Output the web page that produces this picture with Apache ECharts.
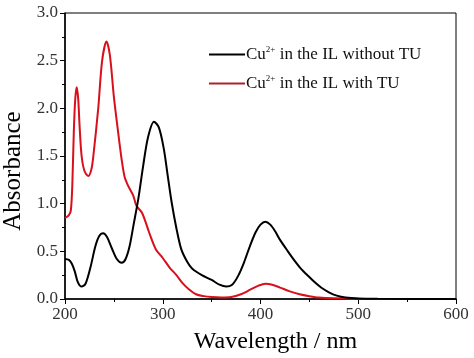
<!DOCTYPE html>
<html>
<head>
<meta charset="utf-8">
<script src="https://cdn.jsdelivr.net/npm/echarts@6/dist/echarts.min.js"></script>
<style>html,body{margin:0;padding:0;background:#fff}#c{width:474px;height:358px}</style>
</head>
<body>
<div id="c"></div>
<script>
var seriesNames = ['without', 'with'];
var legendLabels = [' in the IL without TU', ' in the IL with TU'];
var xTicks = [200, 300, 400, 500, 600];
var withoutTU = [[200,0.42],[204,0.41],[207,0.37],[210,0.29],[213,0.18],[217,0.13],[221,0.16],[226,0.33],[231,0.55],[235,0.66],[239,0.69],[243,0.65],[248,0.53],[253,0.42],[258,0.38],[262,0.42],[266,0.55],[270,0.77],[275,1.05],[280,1.40],[285,1.70],[291,1.86],[296,1.80],[301,1.58],[305,1.30],[309,1.02],[314,0.74],[319,0.52],[325,0.39],[330,0.32],[340,0.25],[350,0.20],[358,0.15],[365,0.13],[371,0.15],[377,0.24],[383,0.38],[389,0.55],[395,0.70],[400,0.78],[405,0.81],[410,0.78],[415,0.71],[420,0.62],[428,0.50],[435,0.40],[442,0.31],[448,0.25],[455,0.18],[462,0.12],[470,0.07],[478,0.035],[487,0.015],[500,0.005],[520,0.002],[600,0]];
var withTU = [[200,0.85],[204,0.88],[206,0.93],[207.5,1.2],[209,1.75],[210.5,2.1],[212,2.22],[213.5,2.1],[215,1.8],[217,1.5],[220,1.34],[224,1.29],[227,1.36],[229,1.5],[234,2.0],[238,2.5],[242.5,2.70],[246,2.55],[250,2.12],[254,1.78],[258,1.46],[261,1.28],[264,1.20],[267,1.14],[270,1.08],[273,0.98],[279,0.90],[286,0.70],[293,0.52],[300,0.43],[307,0.33],[314,0.25],[320,0.17],[327,0.10],[334,0.05],[342,0.03],[350,0.02],[360,0.015],[370,0.02],[380,0.05],[390,0.10],[398,0.14],[405,0.16],[412,0.15],[420,0.12],[430,0.08],[440,0.05],[450,0.03],[460,0.015],[475,0.007],[500,0.002],[600,0]];

var chart = echarts.init(document.getElementById('c'));
var serif = 'Liberation Serif';
chart.setOption({
  animation: false,
  backgroundColor: '#fff',
  grid: {left: 65, right: 18, top: 13, bottom: 59, show: true, borderColor: '#000', borderWidth: 1,
         containLabel: false, outerBoundsMode: 'none'},
  legend: {
    orient: 'vertical', left: 204, top: 40, itemGap: 11,
    itemWidth: 36, itemHeight: 2, icon: 'rect',
    data: seriesNames,
    formatter: function (n) {
      var i = seriesNames.indexOf(n);
      return '{a|Cu}{s|2+}{a|' + legendLabels[i] + '}';
    },
    textStyle: {
      fontFamily: serif, color: '#000', padding: [0,0,0,-4],
      rich: {
        a: {fontFamily: serif, fontSize: 17, color: '#111'},
        s: {fontFamily: serif, fontSize: 9, color: '#111', padding: [0,0,10,0]}
      }
    }
  },
  xAxis: {
    type: 'value', min: 200, max: 600, interval: 100,
    name: 'Wavelength / nm', nameLocation: 'middle', nameGap: 31,
    nameTextStyle: {fontFamily: serif, fontSize: 24, color: '#000', padding: [0,0,0,30]},
    axisLine: {lineStyle: {color: '#000', width: 1.5}},
    axisTick: {inside: false, length: 5, lineStyle: {color: '#000'}},
    minorTick: {show: true, splitNumber: 2, length: 3, lineStyle: {color: '#000'}},
    axisLabel: {fontFamily: serif, fontSize: 17, color: '#333', margin: 7,
      formatter: function (v) { return xTicks.indexOf(v) >= 0 ? String(v) : ''; }},
    splitLine: {show: false}
  },
  yAxis: {
    type: 'value', min: 0, max: 3, interval: 0.5,
    name: 'Absorbance', nameLocation: 'middle', nameGap: 38,
    nameTextStyle: {fontFamily: serif, fontSize: 25, color: '#000', padding: [0,30,0,0]},
    axisLine: {show: true, lineStyle: {color: '#000', width: 1.5}},
    axisTick: {show: true, inside: false, length: 5, lineStyle: {color: '#000'}},
    minorTick: {show: true, splitNumber: 2, length: 3, lineStyle: {color: '#000'}},
    axisLabel: {fontFamily: serif, fontSize: 17, color: '#333', margin: 7,
      formatter: function (v) { return v.toFixed(1); }},
    splitLine: {show: false}
  },
  series: [
    {name: seriesNames[0], type: 'line', data: withoutTU, showSymbol: false, smooth: 0.3,
     lineStyle: {color: '#000', width: 2}, itemStyle: {color: '#000'}, z: 3},
    {name: seriesNames[1], type: 'line', data: withTU, showSymbol: false, smooth: 0.3,
     lineStyle: {color: '#d9101c', width: 2}, itemStyle: {color: '#b0222a'}, z: 2}
  ]
});
</script>
</body>
</html>
